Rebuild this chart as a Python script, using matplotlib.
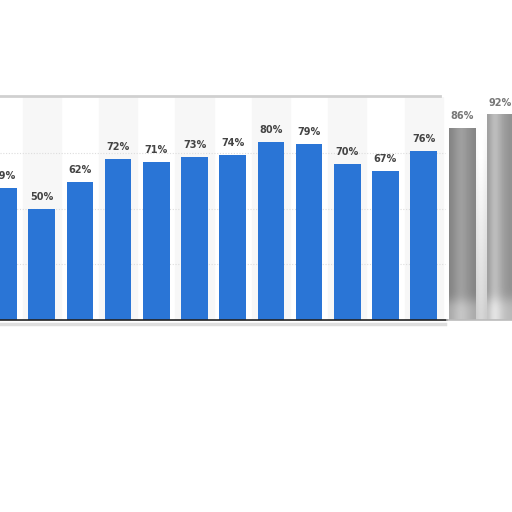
import numpy as np
import matplotlib.pyplot as plt
from matplotlib.lines import Line2D

# values (first bar is cut off at the left edge)
labels = ["59%", "50%", "62%", "72%", "71%", "73%", "74%", "80%", "79%", "70%", "67%", "76%", "86%", "92%"]
values = [59, 50, 62, 72, 71, 73, 74, 80, 79, 70, 67, 76, 86, 92]
forecast = [False] * 12 + [True, True]

blue = "#2a75d6"
W, H = 512, 512
step = 38.2  # pixels between bar centres
x0 = 3.5     # pixel centre of the first bar

fig = plt.figure(figsize=(W / 100, H / 100), dpi=100)
ax_top, ax_bot = 97, 320
ax = fig.add_axes([0, 1 - ax_bot / H, 1, (ax_bot - ax_top) / H])
ax.axis("off")

x = np.arange(len(values))

# light stripes behind every other bar
for i in x[1::2]:
    if not forecast[i]:
        ax.axvspan(i - 0.5, i + 0.5, color="#f7f7f7", zorder=0)

# dotted grid
for g in (25, 50, 75):
    ax.axhline(g, xmin=0, xmax=445 / W, color="#dddddd", lw=0.8, ls=(0, (1, 1.5)), zorder=1)

width = 0.7
for xi, v, f in zip(x, values, forecast):
    if not f:
        ax.bar(xi, v, width=width, color=blue, zorder=2)

# forecast bars: smudged grey gradient
fc_idx = [i for i in x if forecast[i]]
gap = np.linspace(0.80, 1.0, 30)[:, None] * np.ones((1, 4))
gap[:, 1:3] += 0.04
ax.imshow(np.clip(gap, 0, 1), cmap="gray", vmin=0, vmax=1, aspect="auto", interpolation="bicubic",
          extent=[fc_idx[0] + width / 2, fc_idx[1] - width / 2, 0, values[fc_idx[1]]],
          zorder=1.5, origin="lower")
profiles = [np.array([0.52, 0.56, 0.60, 0.63, 0.61, 0.58, 0.55, 0.52]),
            np.array([0.62, 0.72, 0.75, 0.70, 0.64, 0.60, 0.58, 0.57])]
for k, i in enumerate(fc_idx):
    img = np.tile(profiles[k], (20, 1))
    img[:2, :] = np.clip(img[:2, :] + 0.15, 0, 1)
    ax.imshow(img, cmap="gray", vmin=0, vmax=1, aspect="auto", interpolation="bicubic",
              extent=[i - width / 2, i + width / 2, 0, values[i]], zorder=2, origin="lower")

for xi, v, lab, f in zip(x, values, labels, forecast):
    ax.annotate(lab, (xi, v), xytext=(0, 5), textcoords="offset points",
                ha="center", va="bottom", fontsize=7, fontweight="bold",
                color="#777777" if f else "#444444")

ax.set_xlim(-x0 / step, (W - x0) / step)
ax.set_ylim(0, 100)

# baseline and frame
ax.plot([-1, 11.6], [0, 0], color="#222222", lw=1.2, zorder=3, clip_on=False)
ax.plot([11.6, 14], [0, 0], color="#bbbbbb", lw=1.2, zorder=3, clip_on=False)
fig.add_artist(Line2D([0, 440 / W], [1 - 96 / H, 1 - 96 / H], color="#d0d0d0", lw=2))
fig.add_artist(Line2D([0, 445 / W], [1 - 324 / H, 1 - 324 / H], color="#dedede", lw=2.5))

fig.savefig("out.png", dpi=100)
